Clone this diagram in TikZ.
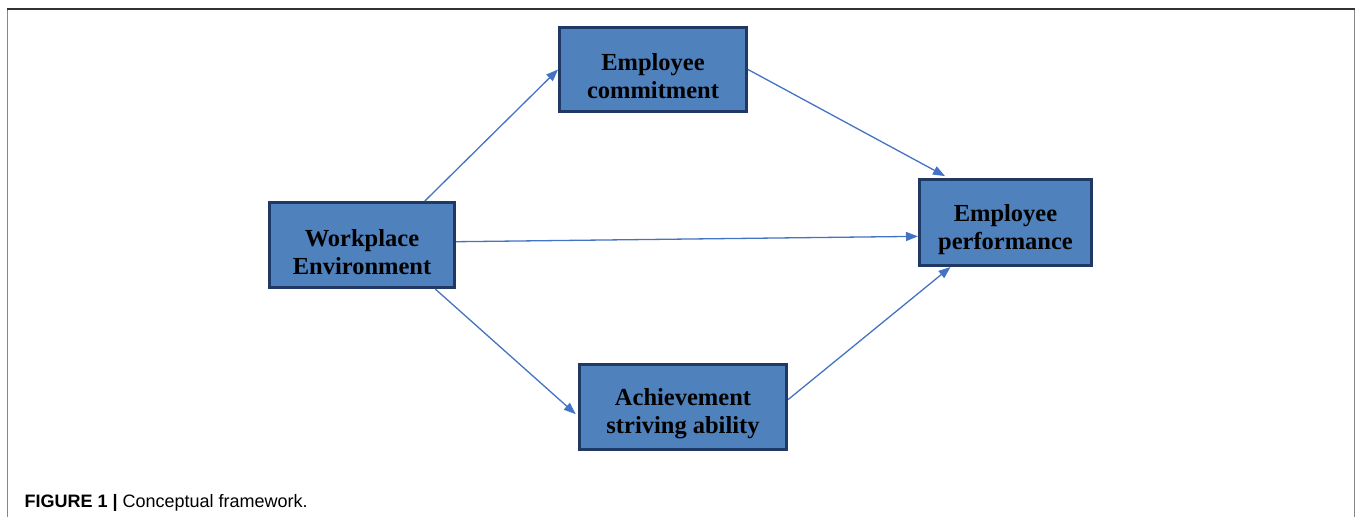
\documentclass[tikz,border=0pt]{standalone}
\usepackage{fontspec}
\setmainfont{Liberation Serif}
\newfontfamily\capfont{Liberation Sans}
\usetikzlibrary{arrows.meta}

\definecolor{boxfill}{RGB}{79,129,189}
\definecolor{boxline}{RGB}{31,56,100}
\definecolor{linkblue}{RGB}{68,114,196}
\definecolor{framegray}{RGB}{135,135,135}

\tikzset{
    box/.style={draw=boxline,line width=3pt,fill=boxfill,align=center,
        font=\bfseries\fontsize{24.5}{28}\selectfont,inner sep=2pt},
    link/.style={-{Triangle[length=12pt,width=9pt]},color=linkblue,line width=1.3pt},
}
% pushes the two lines of a box a little down
\newcommand{\lowtext}{\rule{0pt}{31pt}}

\begin{document}
\begin{tikzpicture}[x=1pt,y=1pt]
        \useasboundingbox (0,0) rectangle (1357,517);
        % frame round the figure
        \draw[framegray,line width=1.6pt] (7.5,508) -- (7.5,0);
        \draw[framegray,line width=1.6pt] (1354.5,508) -- (1354.5,0);
        \draw[black!80,line width=1.8pt] (6.7,508) -- (1355.3,508);

        \node[box,minimum width=185pt,minimum height=85pt] (we) at (362,272) {\lowtext Workplace\\Environment};
        \node[box,minimum width=187pt,minimum height=84pt] (ec) at (653,447.5) {\lowtext Employee\\commitment};
        \node[box,minimum width=172pt,minimum height=86pt] (ep) at (1005.5,294.5) {\lowtext Employee\\performance};
        \node[box,minimum width=207pt,minimum height=85pt] (as) at (683,110) {\lowtext Achievement\\striving ability};

        \draw[link] (we.35) -- (ec.west);
        \draw[link] (we.2) -- (ep.189);
        \draw[link,shorten >=3pt] (we.-31) -- (as.185);
        \draw[link,shorten >=4pt] (ec.east) -- (ep.142);
        \draw[link] (as.4) -- (ep.219);

        \node[anchor=base west,font=\capfont\fontsize{18}{20}\selectfont] (cap) at (21,10)
            {\textbf{FIGURE 1 |} Conceptual framework.};
\end{tikzpicture}
\end{document}
